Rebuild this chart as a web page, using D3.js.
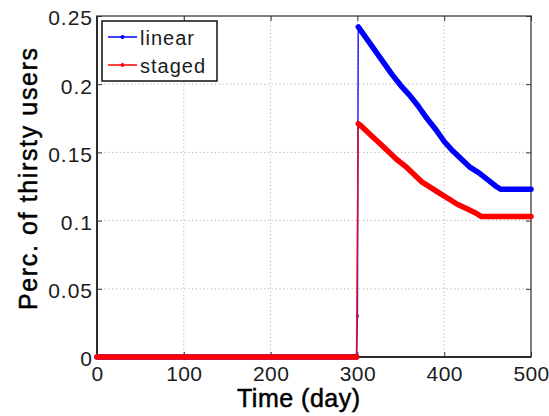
<!DOCTYPE html>
<html>
<head>
<meta charset="utf-8">
<script src="https://cdn.jsdelivr.net/npm/d3@7"></script>
<style>
  html, body { margin: 0; padding: 0; background: #fff; }
  svg { display: block; }
  text { font-family: "Liberation Sans", Arial, Helvetica, sans-serif; }
</style>
</head>
<body>
<svg id="chart" width="549" height="416"></svg>
<script>
// Share of thirsty users over time, for the two rollout strategies
const seriesNames = ["linear", "staged"];
const seriesColors = ["#0000ff", "#ff0000"];

// Days and values for the linear strategy
const linearDays   = [0, 299, 300, 301, 310, 320, 330, 340, 350, 360, 370, 380, 390, 400, 410, 420, 430, 440, 450, 460, 465, 500];
const linearValues = [0, 0, 0.03, 0.242, 0.234, 0.225, 0.216, 0.207, 0.199, 0.192, 0.184, 0.175, 0.167, 0.158, 0.151, 0.145, 0.139, 0.135, 0.130, 0.125, 0.123, 0.123];

// Days and values for the staged strategy
const stagedDays   = [0, 299, 301, 305, 315, 325, 335, 345, 355, 365, 375, 385, 395, 405, 415, 425, 435, 443, 500];
const stagedValues = [0, 0, 0.171, 0.169, 0.163, 0.157, 0.151, 0.145, 0.140, 0.134, 0.128, 0.124, 0.120, 0.116, 0.112, 0.109, 0.106, 0.103, 0.103];

const xTicks = [0, 100, 200, 300, 400, 500];
const yTicks = [0, 0.05, 0.1, 0.15, 0.2, 0.25];
const yTickLabels = ["0", "0.05", "0.1", "0.15", "0.2", "0.25"];
const switchDay = 300;

const svg = d3.select("#chart");
const x = d3.scaleLinear().domain([0, 500]).range([97, 531]);
const y = d3.scaleLinear().domain([0, 0.25]).range([357, 16]);

// dotted grid
const grid = svg.append("g").attr("stroke", "#b8b8b8").attr("stroke-width", 1)
  .attr("stroke-dasharray", "1.2,2.6");
xTicks.slice(1, -1).forEach(t => {
  grid.append("line").attr("x1", x(t)).attr("x2", x(t)).attr("y1", y(0)).attr("y2", y(0.25));
});
yTicks.slice(1, -1).forEach(t => {
  grid.append("line").attr("x1", x(0)).attr("x2", x(500)).attr("y1", y(t)).attr("y2", y(t));
});

// frame
svg.append("rect").attr("x", x(0)).attr("y", y(0.25))
  .attr("width", x(500) - x(0)).attr("height", y(0) - y(0.25))
  .attr("fill", "none").attr("stroke", "#555").attr("stroke-width", 1.5);
svg.append("line").attr("x1", x(0)).attr("x2", x(0)).attr("y1", y(0)).attr("y2", y(0.25))
  .attr("stroke", "#111").attr("stroke-width", 1.5);
svg.append("line").attr("x1", x(0)).attr("x2", x(500)).attr("y1", y(0)).attr("y2", y(0))
  .attr("stroke", "#111").attr("stroke-width", 1.5);

// inward ticks on all four sides, labels on bottom and left
const tickLen = 5;
const bottomAxis = d3.axisBottom(x).tickValues(xTicks).tickSize(-tickLen).tickPadding(9);
const gB = svg.append("g").attr("transform", `translate(0,${y(0)})`).call(bottomAxis);
const topAxis = d3.axisTop(x).tickValues(xTicks).tickSize(-tickLen).tickFormat("");
const gT = svg.append("g").attr("transform", `translate(0,${y(0.25)})`).call(topAxis);
const leftAxis = d3.axisLeft(y).tickValues(yTicks).tickSize(-tickLen).tickPadding(4)
  .tickFormat((d, i) => yTickLabels[i]);
const gL = svg.append("g").attr("transform", `translate(${x(0)},0)`).call(leftAxis);
const rightAxis = d3.axisRight(y).tickValues(yTicks).tickSize(-tickLen).tickFormat("");
const gR = svg.append("g").attr("transform", `translate(${x(500)},0)`).call(rightAxis);
[gB, gT, gL, gR].forEach(g => {
  g.select(".domain").remove();
  g.selectAll(".tick line").attr("stroke", "#333").attr("stroke-width", 1);
  g.selectAll("text").attr("font-size", 21).attr("fill", "#1b1b22")
    .style("font-family", "'Liberation Sans', Arial, sans-serif");
});
gL.selectAll(".tick text").attr("dy", "0.42em").attr("letter-spacing", 1);
gB.selectAll(".tick text").attr("dy", "0.71em").attr("letter-spacing", 0.4);

// series
const series = [
  { name: seriesNames[0], color: seriesColors[0], pts: linearDays.map((d, i) => [d, linearValues[i]]) },
  { name: seriesNames[1], color: seriesColors[1], pts: stagedDays.map((d, i) => [d, stagedValues[i]]) }
];
const line = d3.line().x(d => x(d[0])).y(d => y(d[1]));
const plot = svg.append("g");
series.forEach(s => {
  // thin connecting line
  plot.append("path").attr("d", line(s.pts)).attr("fill", "none")
    .attr("stroke", s.color).attr("stroke-width", 1.5).attr("opacity", 0.85);
  // dense daily markers read as a heavy trace before and after the switch
  const pieces = [s.pts.filter(p => p[0] < switchDay), s.pts.filter(p => p[0] > switchDay)];
  pieces.forEach(pc => {
    plot.append("path").attr("d", line(pc)).attr("fill", "none")
      .attr("stroke", s.color).attr("stroke-width", 5.5)
      .attr("stroke-linejoin", "round").attr("stroke-linecap", "round");
  });
  // single sample on the switch day
  s.pts.filter(p => p[0] === switchDay).forEach(p => {
    plot.append("rect").attr("x", x(p[0]) - 1.5).attr("y", y(p[1]) - 1.5)
      .attr("width", 3).attr("height", 3).attr("fill", "#6a3ad8");
  });
});

// legend
const lg = svg.append("g");
lg.append("rect").attr("x", 102).attr("y", 21).attr("width", 115).attr("height", 60)
  .attr("fill", "#fff").attr("stroke", "#111").attr("stroke-width", 1.5);
series.forEach((s, i) => {
  const ly = 37 + i * 28;
  lg.append("line").attr("x1", 108).attr("x2", 137).attr("y1", ly).attr("y2", ly)
    .attr("stroke", s.color).attr("stroke-width", 1.5);
  lg.append("circle").attr("cx", 122.5).attr("cy", ly).attr("r", 2).attr("fill", s.color);
  lg.append("text").attr("x", 140).attr("y", ly + 8).attr("font-size", 20)
    .attr("letter-spacing", 1).attr("fill", "#1b1b22").text(s.name);
});

// axis titles
svg.append("text").attr("x", 298.5).attr("y", 407).attr("text-anchor", "middle")
  .attr("font-size", 25).attr("fill", "#000").attr("stroke", "#000").attr("stroke-width", 0.5)
  .attr("textLength", 123).attr("lengthAdjust", "spacing").text("Time (day)");
svg.append("text").attr("transform", "translate(37,179) rotate(-90)")
  .attr("text-anchor", "middle").attr("font-size", 25).attr("fill", "#000")
  .attr("stroke", "#000").attr("stroke-width", 0.5)
  .attr("textLength", 262).attr("lengthAdjust", "spacing").text("Perc. of thirsty users");
</script>
</body>
</html>
